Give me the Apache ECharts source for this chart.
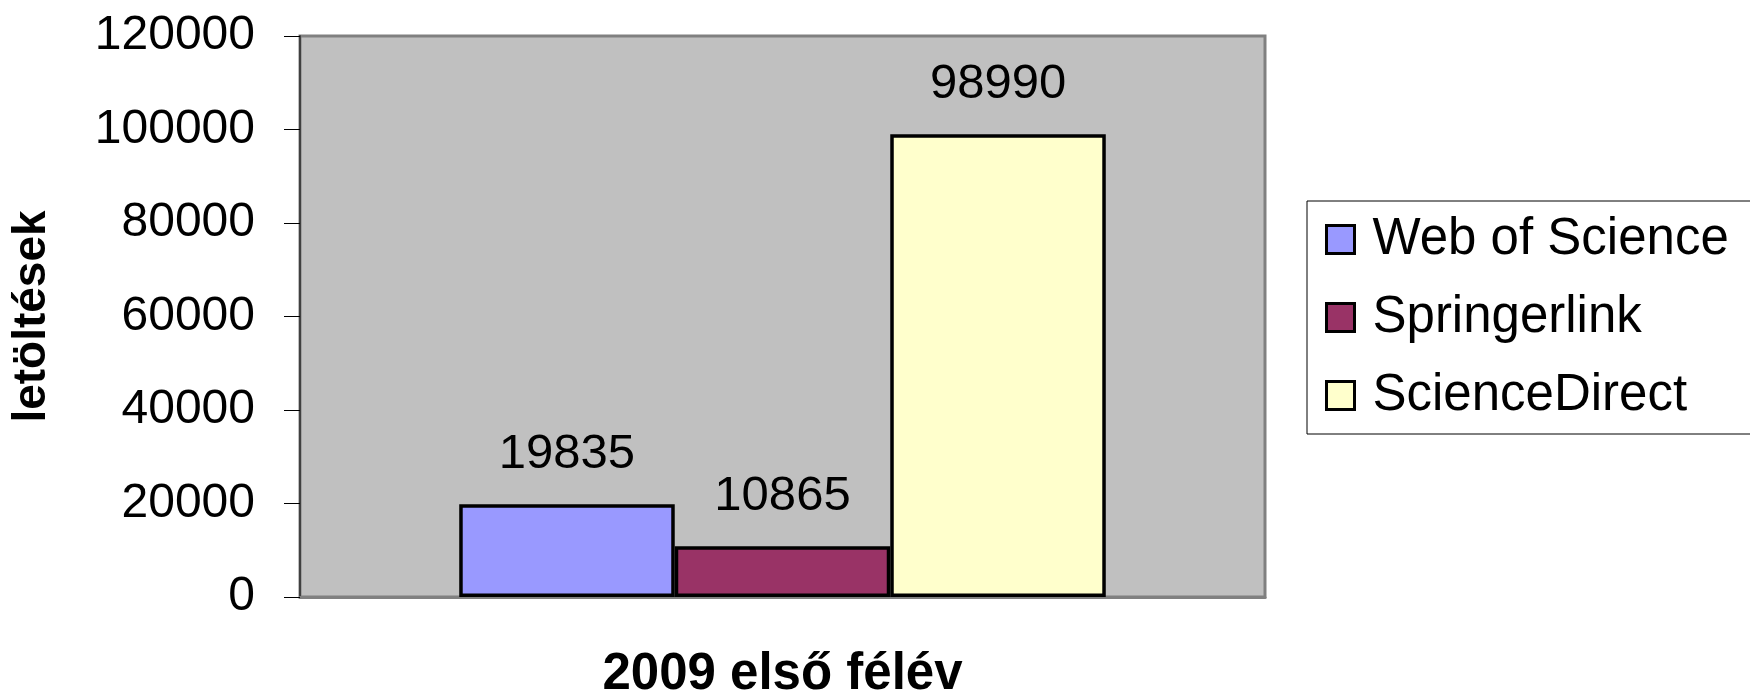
<!DOCTYPE html>
<html>
<head>
<meta charset="utf-8">
<script src="https://cdn.jsdelivr.net/npm/echarts@6/dist/echarts.min.js"></script>
<style>
  html, body { margin: 0; padding: 0; background: #ffffff; }
  #chart { width: 1750px; height: 694px; }
</style>
</head>
<body>
<div id="chart"></div>
<script>
var categories = ['2009 első félév']
var seriesNames = ['Web of Science', 'Springerlink', 'ScienceDirect']
var webOfScience = [19835]
var springerlink = [10865]
var scienceDirect = [98990]
var colors = ['#9999ff', '#993366', '#ffffcc']

var font = 'Arial, "Liberation Sans", sans-serif'
var values = [webOfScience, springerlink, scienceDirect]

var series = seriesNames.map(function (name, i) {
  return {
    name: name,
    type: 'bar',
    data: values[i],
    barGap: '0%',
    barCategoryGap: '33%',
    itemStyle: {
      color: colors[i],
      borderColor: '#000000',
      borderWidth: 3.5
    },
    label: {
      show: true,
      position: 'top',
      distance: 25,
      color: '#000000',
      fontSize: 49,
      fontFamily: font
    }
  }
})

var chart = echarts.init(document.getElementById('chart'))
chart.setOption({
  animation: false,
  textStyle: { fontFamily: font },
  grid: {
    left: 300,
    right: 485,
    top: 36,
    bottom: 97,
    outerBoundsMode: 'none',
    containLabel: false,
    show: true,
    backgroundColor: '#c0c0c0',
    borderColor: '#808080',
    borderWidth: 3
  },
  legend: {
    orient: 'vertical',
    left: 1307,
    top: 201,
    padding: [13, 60, 13, 18],
    itemGap: 27,
    itemWidth: 28,
    itemHeight: 28,
    icon: 'rect',
    borderColor: '#000000',
    borderWidth: 1,
    itemStyle: { borderColor: '#000000', borderWidth: 3 },
    textStyle: {
      fontSize: 51,
      lineHeight: 50,
      color: '#000000',
      fontFamily: font,
      padding: [0, 0, 0, 13]
    },
    data: seriesNames
  },
  xAxis: {
    type: 'category',
    data: categories,
    axisLine: { lineStyle: { color: '#808080', width: 3 } },
    axisTick: { show: false },
    axisLabel: {
      margin: 52,
      fontSize: 51,
      fontWeight: 'bold',
      color: '#000000',
      fontFamily: font
    }
  },
  yAxis: {
    type: 'value',
    min: 0,
    max: 120000,
    interval: 20000,
    name: 'letöltések',
    nameLocation: 'middle',
    nameRotate: 90,
    nameGap: 245,
    nameTextStyle: {
      fontSize: 46,
      fontWeight: 'bold',
      color: '#000000',
      fontFamily: font
    },
    axisLine: { show: true, lineStyle: { color: '#404040', width: 2 } },
    axisTick: { show: true, length: 16, lineStyle: { color: '#000000', width: 1 } },
    splitLine: { show: false },
    axisLabel: {
      margin: 45,
      fontSize: 48,
      color: '#000000',
      fontFamily: font,
      formatter: function (v) { return String(v) }
    }
  },
  series: series
})
</script>
</body>
</html>
